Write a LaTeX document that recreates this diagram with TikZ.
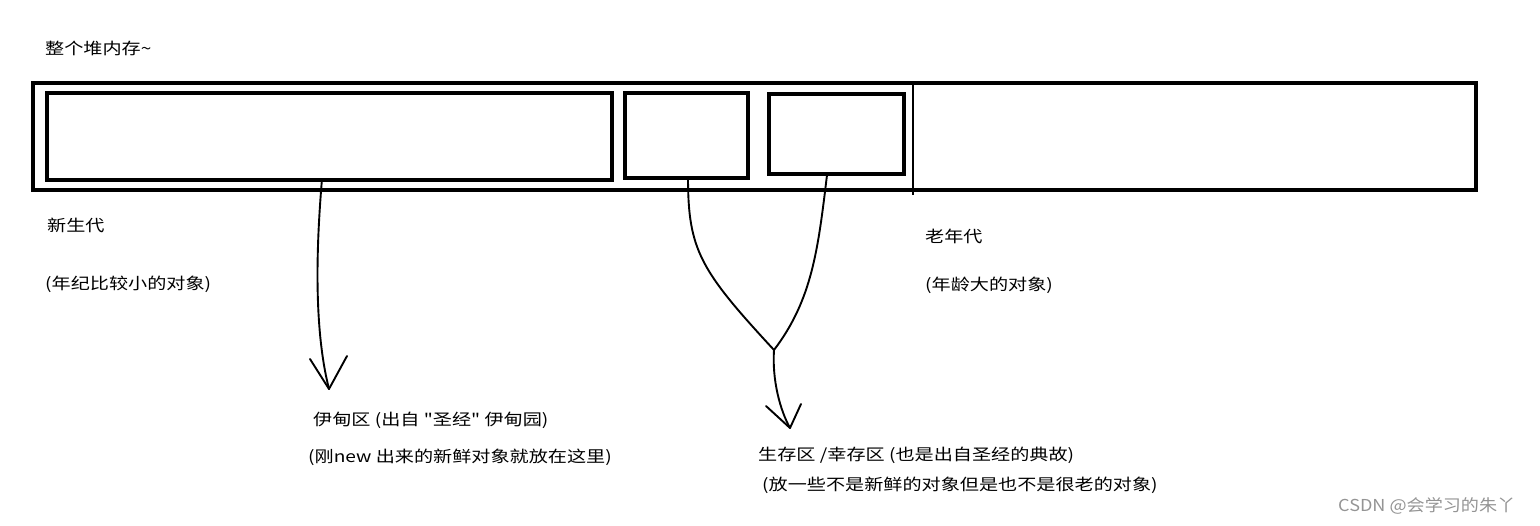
\documentclass[tikz,border=0pt]{standalone}
\usepackage{fontspec}
\setmainfont{Noto Sans CJK SC}[FakeStretch=1.2,Ligatures=TeXOff]
\newfontfamily\wmfont{Noto Sans CJK SC}[FakeStretch=1.1]
\begin{document}
\begin{tikzpicture}[x=1bp,y=-1bp,
  lbl/.style={anchor=west,inner sep=0pt,font=\fontsize{16}{18}\selectfont},
  outerbox/.style={draw,line width=3.3pt},
  innerbox/.style={draw,line width=3.8pt},
  curve/.style={line width=1.9pt,line cap=round,line join=round}]
\useasboundingbox (0,0) rectangle (1540,526);
% heap
\draw[outerbox] (33,83) rectangle (1476,190);
\node[innerbox,inner sep=0pt,minimum width=565bp,minimum height=87bp,anchor=north west] (eden) at (45,91) {};
\node[innerbox,inner sep=0pt,minimum width=123bp,minimum height=85bp,anchor=north west] (s0) at (623,91) {};
\node[innerbox,inner sep=0pt,minimum width=135bp,minimum height=80bp,anchor=north west] (s1) at (767,92) {};
\coordinate (divtop) at (913,83);
\coordinate (divbot) at (913,195);
\draw[line width=2.2pt] (divtop) -- (divbot);
% labels
\node[lbl] (title) at (45,48) {整个堆内存\textasciitilde};
\node[lbl] (young) at (47,225) {新生代};
\node[lbl] (younga) at (45,284) {(年纪比较小的对象)};
\node[lbl] (old) at (925,236) {老年代};
\node[lbl] (olda) at (925,285) {(年龄大的对象)};
\node[lbl] (edenl) at (313,420) {伊甸区 (出自 "圣经" 伊甸园)};
\node[lbl] (edenla) at (308,457) {(刚new 出来的新鲜对象就放在这里)};
\node[lbl] (survl) at (758,455) {生存区 /幸存区 (也是出自圣经的典故)};
\node[lbl] (survla) at (762,485) {(放一些不是新鲜的对象但是也不是很老的对象)};
\node[anchor=west,inner sep=0pt,text=black!42,font=\wmfont\fontsize{16.5}{18}\selectfont] (wm) at (1338,506) {CSDN @会学习的朱丫};
% eden arrow
\coordinate (etip) at (329,389);
\draw[curve] (322,179) .. controls (316,250) and (314,330) .. (etip);
\draw[curve] (310,359) -- (etip) -- (347,356);
% survivor arrows
\coordinate (junc) at (774,350);
\coordinate (stip) at (790,428);
\draw[curve] (688,177) .. controls (688,250) and (700,270) .. (junc);
\draw[curve] (827,175) .. controls (818,250) and (812,300) .. (junc);
\draw[curve] (junc) .. controls (772,380) and (780,410) .. (stip);
\draw[curve] (766,406) -- (stip) -- (801,404);
\end{tikzpicture}
\end{document}
